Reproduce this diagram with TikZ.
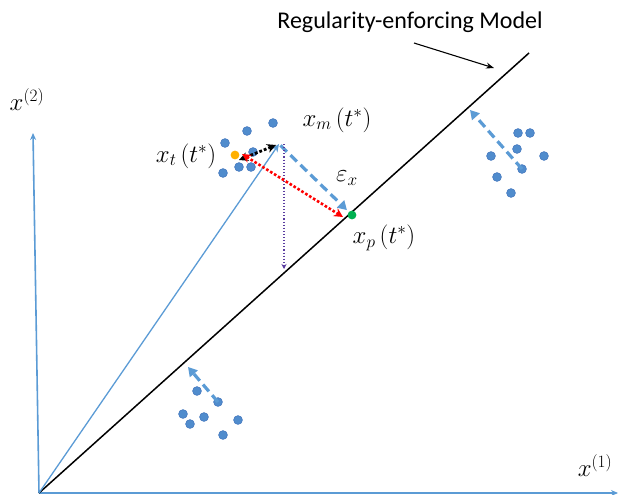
\documentclass[tikz,border=0pt]{standalone}
\usepackage{fontspec}
\newfontfamily\calibri{Carlito}
\usetikzlibrary{arrows.meta}

\definecolor{axisblue}{RGB}{91,155,213}
\definecolor{dotblue}{RGB}{68,120,190}
\definecolor{dotfill}{RGB}{80,140,205}
\definecolor{tgold}{RGB}{255,176,0}
\definecolor{pgreen}{RGB}{0,176,80}
\definecolor{footpurple}{RGB}{90,60,160}

\tikzset{
  lbl/.style={font=\fontsize{24}{30}\selectfont, inner sep=0pt},
  axlbl/.style={font=\fontsize{24}{28}\selectfont, inner sep=0pt},
  sample/.style={fill=dotfill, draw=dotblue, line width=0.6pt},
  shiftarrow/.style={axisblue, line width=3.2pt, dash pattern=on 9pt off 5pt,
    -{Triangle[length=9pt,width=10pt]}}
}

\begin{document}
\begin{tikzpicture}[x=1pt,y=-1pt,line width=1pt]
\useasboundingbox (0,0) rectangle (619,495);

% ---------------------------
% axes
% ---------------------------
\coordinate (O)  at (39,493);
\coordinate (Y)  at (33,133);
\coordinate (X)  at (618,493);

\draw[axisblue, line width=1.6pt, -{Stealth[length=7pt,width=6pt]}] (O)--(Y);
\draw[axisblue, line width=1.6pt, -{Stealth[length=7pt,width=6pt]}] (O)--(X);

\node[axlbl] (lx2) at (27,100) {$x^{(2)}$};
\node[axlbl] (lx1) at (595,466) {$x^{(1)}$};

% ---------------------------
% regularity-enforcing model
% ---------------------------
\coordinate (M1) at (529,53);
\draw[line width=1.5pt] (O)--(M1);

\node[font=\calibri\fontsize{24}{28}\selectfont, inner sep=0pt] (reg) at (410,22) {Regularity-enforcing Model};
\coordinate (regtail) at (414,43);
\coordinate (regtip)  at (494,68);
\draw[line width=1.1pt, -{Stealth[length=8pt,width=6pt]}] (regtail)--(regtip);

% ---------------------------
% measured / true / projected point
% ---------------------------
\coordinate (xm) at (279,144);
\coordinate (xp) at (352,215);
\coordinate (xt) at (235,155);
\coordinate (xf) at (284,269);

\draw[axisblue, line width=1.3pt, -{Stealth[length=8pt,width=7pt]}] (O)--(xm);
\draw[shiftarrow, shorten <=2pt, shorten >=7pt] (xm)--(xp);
\draw[footpurple, line width=1.1pt, dotted, -{Stealth[length=5pt,width=5pt]}] ([xshift=5pt]xm)--(xf);

% cluster round x_t
\foreach \p in {(273,123),(247,131),(225,143),(253,152),(239,167),(251,167),(223,173)}
  \fill[sample] \p circle (4.4);

\fill[tgold] (xt) circle (4.4);
\fill[pgreen] (xp) circle (4.4);

\draw[line width=2.8pt, dotted, {Stealth[length=9pt,width=9pt]}-{Stealth[length=9pt,width=9pt]}]
  ([xshift=-3pt,yshift=-1pt]xm)--([xshift=4pt,yshift=-5pt]xt);
\draw[red, line width=2.6pt, dotted, {Stealth[length=9pt,width=9pt]}-{Stealth[length=9pt,width=9pt]}]
  ([xshift=7pt,yshift=1pt]xt)--([xshift=-9pt,yshift=-2pt]xp);

\node[lbl] (lxm) at (337,120) {$x_m\,(t^*)$};
\node[lbl] (lxt) at (186,156) {$x_t\,(t^*)$};
\node[lbl] (lex) at (347,178) {$\varepsilon_x$};
\node[lbl] (lxp) at (384,238) {$x_p\,(t^*)$};

% ---------------------------
% upper right cluster
% ---------------------------
\foreach \p in {(518,133),(530,133),(517,149),(491,156),(544,156),(522,169),(497,177),(511,193)}
  \fill[sample] \p circle (4.4);
\coordinate (ur0) at (522,169);
\coordinate (ur1) at (470,110);
\draw[shiftarrow] (ur0)--(ur1);

% ---------------------------
% lower left cluster
% ---------------------------
\foreach \p in {(197,391),(218,402),(183,414),(190,424),(204,417),(238,420),(223,435)}
  \fill[sample] \p circle (4.4);
\coordinate (ll0) at (218,402);
\coordinate (ll1) at (188,367);
\draw[shiftarrow] (ll0)--(ll1);

\end{tikzpicture}
\end{document}
